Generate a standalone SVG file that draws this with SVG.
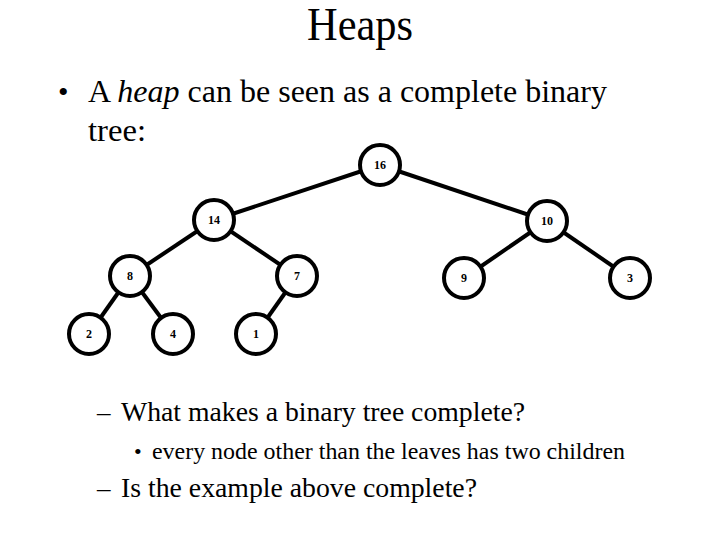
<svg xmlns="http://www.w3.org/2000/svg" width="720" height="540" viewBox="0 0 720 540">
<style>
.edge{stroke:#000;stroke-width:4;fill:none}
.node circle{fill:#fff;stroke:#000;stroke-width:4}
</style>
<rect width="720" height="540" fill="#fff"/>
<text x="307" y="40" font-size="46" font-family="Liberation Serif" textLength="106" lengthAdjust="spacingAndGlyphs">Heaps</text>
<text x="58" y="102" font-size="30" font-family="Liberation Serif">&#8226;</text>
<text x="88" y="102" font-size="31" font-family="Liberation Serif" textLength="519" lengthAdjust="spacingAndGlyphs">A <tspan font-style="italic">heap</tspan> can be seen as a complete binary</text>
<text x="88" y="141" font-size="31" font-family="Liberation Serif" textLength="58" lengthAdjust="spacingAndGlyphs">tree:</text>
<g id="connectors">
<line class="edge" x1="380" y1="165" x2="214" y2="220"/>
<line class="edge" x1="380" y1="165" x2="547" y2="221"/>
<line class="edge" x1="214" y1="220" x2="130" y2="276"/>
<line class="edge" x1="214" y1="220" x2="297" y2="276"/>
<line class="edge" x1="547" y1="221" x2="464" y2="278"/>
<line class="edge" x1="547" y1="221" x2="630" y2="278"/>
<line class="edge" x1="130" y1="276" x2="89" y2="334"/>
<line class="edge" x1="130" y1="276" x2="173" y2="334"/>
<line class="edge" x1="297" y1="276" x2="256" y2="334"/>
</g>
<g id="n16" class="node"><circle cx="380" cy="165" r="20"/><text x="380" y="169" font-family="Liberation Serif" font-weight="bold" font-size="12" text-anchor="middle">16</text></g>
<g id="n14" class="node"><circle cx="214" cy="220" r="20"/><text x="214" y="224" font-family="Liberation Serif" font-weight="bold" font-size="12" text-anchor="middle">14</text></g>
<g id="n10" class="node"><circle cx="547" cy="221" r="20"/><text x="547" y="225" font-family="Liberation Serif" font-weight="bold" font-size="12" text-anchor="middle">10</text></g>
<g id="n8" class="node"><circle cx="130" cy="276" r="20"/><text x="130" y="280" font-family="Liberation Serif" font-weight="bold" font-size="12" text-anchor="middle">8</text></g>
<g id="n7" class="node"><circle cx="297" cy="276" r="20"/><text x="297" y="280" font-family="Liberation Serif" font-weight="bold" font-size="12" text-anchor="middle">7</text></g>
<g id="n9" class="node"><circle cx="464" cy="278" r="20"/><text x="464" y="282" font-family="Liberation Serif" font-weight="bold" font-size="12" text-anchor="middle">9</text></g>
<g id="n3" class="node"><circle cx="630" cy="278" r="20"/><text x="630" y="282" font-family="Liberation Serif" font-weight="bold" font-size="12" text-anchor="middle">3</text></g>
<g id="n2" class="node"><circle cx="89" cy="334" r="20"/><text x="89" y="338" font-family="Liberation Serif" font-weight="bold" font-size="12" text-anchor="middle">2</text></g>
<g id="n4" class="node"><circle cx="173" cy="334" r="20"/><text x="173" y="338" font-family="Liberation Serif" font-weight="bold" font-size="12" text-anchor="middle">4</text></g>
<g id="n1" class="node"><circle cx="256" cy="334" r="20"/><text x="256" y="338" font-family="Liberation Serif" font-weight="bold" font-size="12" text-anchor="middle">1</text></g>
<text x="97" y="421" font-size="27" font-family="Liberation Serif">&#8211;</text>
<text x="121" y="421" font-size="27" font-family="Liberation Serif" textLength="404" lengthAdjust="spacingAndGlyphs">What makes a binary tree complete?</text>
<text x="134" y="459" font-size="22" font-family="Liberation Serif">&#8226;</text>
<text x="152" y="459" font-size="23" font-family="Liberation Serif" textLength="473" lengthAdjust="spacingAndGlyphs">every node other than the leaves has two children</text>
<text x="97" y="497" font-size="27" font-family="Liberation Serif">&#8211;</text>
<text x="121" y="497" font-size="27" font-family="Liberation Serif" textLength="356" lengthAdjust="spacingAndGlyphs">Is the example above complete?</text>
</svg>
